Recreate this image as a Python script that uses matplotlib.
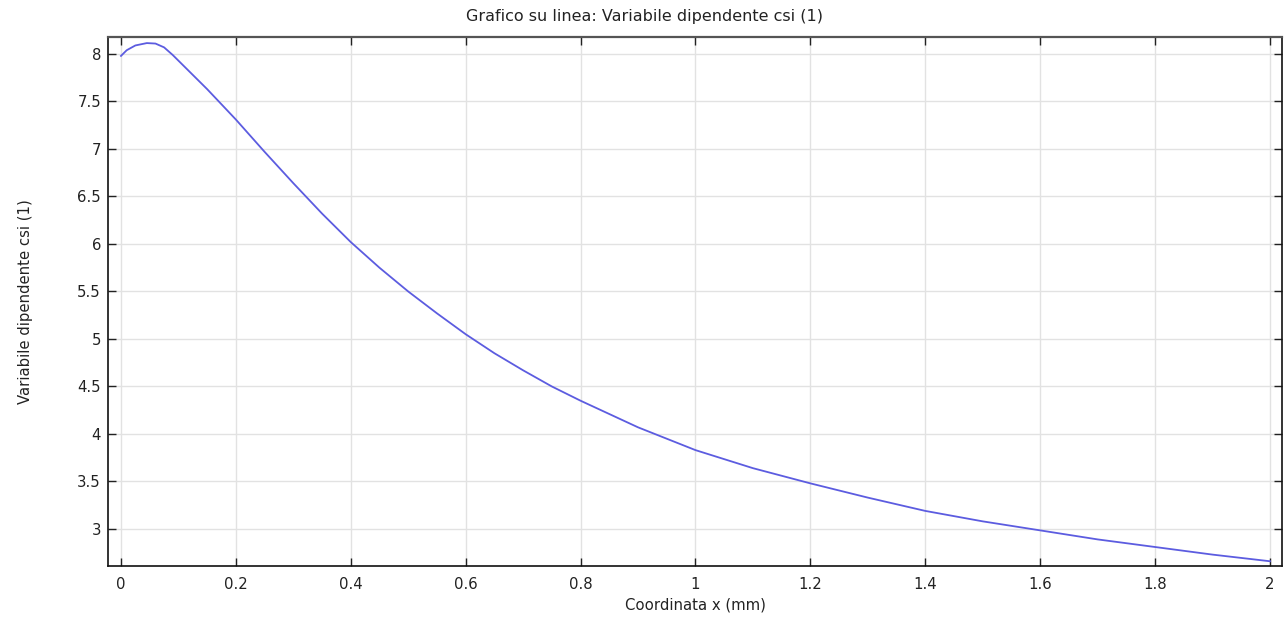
import matplotlib
matplotlib.use("Agg")
import matplotlib.pyplot as plt

x_mm = [0.0, 0.01, 0.025, 0.045, 0.06, 0.075, 0.09, 0.1, 0.15, 0.2, 0.25, 0.3, 0.35,
        0.4, 0.45, 0.5, 0.55, 0.6, 0.65, 0.7, 0.75, 0.8, 0.85, 0.9, 0.95, 1.0,
        1.1, 1.2, 1.3, 1.4, 1.5, 1.6, 1.7, 1.8, 1.9, 2.0]
csi = [7.98, 8.04, 8.09, 8.115, 8.11, 8.07, 7.99, 7.93, 7.63, 7.31, 6.97, 6.64, 6.32,
       6.02, 5.75, 5.50, 5.27, 5.05, 4.85, 4.67, 4.50, 4.35, 4.21, 4.07, 3.95, 3.83,
       3.64, 3.48, 3.33, 3.19, 3.08, 2.985, 2.89, 2.81, 2.73, 2.66]

xticks = [0, 0.2, 0.4, 0.6, 0.8, 1, 1.2, 1.4, 1.6, 1.8, 2]
xticklabels = ["0", "0.2", "0.4", "0.6", "0.8", "1", "1.2", "1.4", "1.6", "1.8", "2"]
yticks = [3, 3.5, 4, 4.5, 5, 5.5, 6, 6.5, 7, 7.5, 8]
yticklabels = ["3", "3.5", "4", "4.5", "5", "5.5", "6", "6.5", "7", "7.5", "8"]

title = "Grafico su linea: Variabile dipendente csi (1)"
xlabel = "Coordinata x (mm)"
ylabel = "Variabile dipendente csi (1)"

plt.rcParams['font.family'] = ['DejaVu Sans']
fig = plt.figure(figsize=(12.86, 6.17), dpi=100)
ax = fig.add_axes([108/1286, 1 - 566/617, (1282-108)/1286, (566-37)/617])

ax.plot(x_mm, csi, color='#5c5ce0', lw=1.3)

ax.set_xlim(-0.0226, 2.021)
ax.set_ylim(2.61, 8.179)
ax.set_xticks(xticks)
ax.set_xticklabels(xticklabels)
ax.set_yticks(yticks)
ax.set_yticklabels(yticklabels)
ax.grid(True, color='#e2e2e2', lw=1)
ax.set_axisbelow(True)

ax.tick_params(direction='in', length=6, width=1.0, top=True, right=True,
               labelsize=10.7, colors='#222222')
ax.tick_params(axis='x', pad=8)
ax.tick_params(axis='y', pad=5)
for s in ['left', 'bottom', 'right']:
    ax.spines[s].set_color('#111111')
    ax.spines[s].set_linewidth(1.2)
ax.spines['top'].set_color('#555555')
ax.spines['top'].set_linewidth(1.6)

fig.text(645/1286, 1 - 17/617, title, fontsize=11.5, color='#222222',
         ha='center', va='center')
ax.set_xlabel(xlabel, fontsize=10.7, color='#222222', labelpad=4)
ax.set_ylabel(ylabel, fontsize=10.7, color='#222222', labelpad=32)

fig.savefig("out.png", dpi=100)
